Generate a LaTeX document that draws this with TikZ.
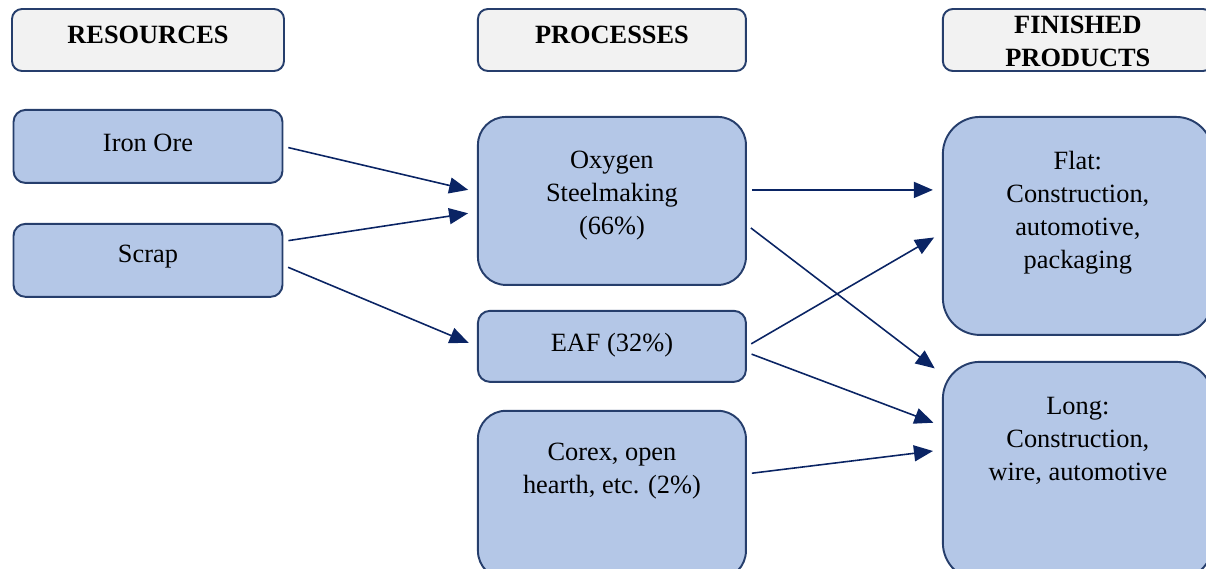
\documentclass[tikz,border=0pt]{standalone}
\usepackage{fontspec}
\setmainfont{Liberation Serif}
\usetikzlibrary{positioning,arrows.meta}

\definecolor{boxline}{RGB}{38,62,108}
\definecolor{boxfill}{RGB}{180,199,231}
\definecolor{headfill}{RGB}{242,242,242}
\definecolor{arrowblue}{RGB}{10,36,100}

\begin{document}
\begin{tikzpicture}[
    header/.style={
        rectangle,
        rounded corners=0.2cm,
        minimum height=1.24cm,
        draw=boxline,
        fill=headfill,
        line width=1.1pt
    },
    item/.style={
        rectangle,
        draw=boxline,
        fill=boxfill,
        line width=1.1pt
    },
    txt/.style={
        align=center,
        inner sep=0pt,
        font=\fontsize{15}{18.8}\selectfont
    },
    headtxt/.style={
        txt,
        font=\fontsize{15}{18.8}\selectfont\bfseries
    },
    arrow/.style={
        -{Triangle[length=0.38cm,width=0.32cm]},
        line width=0.9pt,
        draw=arrowblue,
        shorten <=0.1cm,
        shorten >=0.18cm
    }
]

\useasboundingbox (0,0) rectangle (24.12,-11.38);

% Headers
\node[header, minimum width=5.44cm] (res) at (2.96,-0.80) {};
\node[headtxt] (res-txt) at ([yshift=0.1cm]res.center) {RESOURCES};
\node[header, minimum width=5.36cm, right=3.84cm of res] (proc) {};
\node[headtxt] (proc-txt) at ([yshift=0.1cm]proc.center) {PROCESSES};
\node[header, minimum width=5.40cm, right=3.90cm of proc] (fin) {};
\node[headtxt] (fin-txt) at ([yshift=-0.02cm]fin.center) {FINISHED\\PRODUCTS};

% Resources
\node[item, minimum width=5.38cm, rounded corners=0.24cm, minimum height=1.46cm, below=0.74cm of res] (iron) {};
\node[txt] (iron-txt) at ([yshift=0.07cm]iron.center) {Iron Ore};
\node[item, minimum width=5.38cm, rounded corners=0.24cm, minimum height=1.46cm, below=0.78cm of iron] (scrap) {};
\node[txt] (scrap-txt) at ([yshift=0.07cm]scrap.center) {Scrap};

% Processes
\node[item, minimum width=5.36cm, rounded corners=0.56cm, minimum height=3.36cm, below=0.88cm of proc] (oxy) {};
\node[txt] (oxy-txt) at ([yshift=-1.60cm]oxy.north) {Oxygen\\Steelmaking\\(66\%)};
\node[item, minimum width=5.36cm, rounded corners=0.24cm, minimum height=1.42cm, below=0.48cm of oxy] (eaf) {};
\node[txt] (eaf-txt) at ([yshift=0.03cm]eaf.center) {EAF (32\%)};
\node[item, minimum width=5.36cm, rounded corners=0.56cm, minimum height=3.36cm, below=0.54cm of eaf] (corex) {};
\node[txt] (corex-txt) at ([yshift=-1.23cm]corex.north) {Corex, open\\hearth, etc. (2\%)};

% Finished products
\node[item, minimum width=5.40cm, rounded corners=0.74cm, minimum height=4.36cm, below=0.88cm of fin] (flat) {};
\node[txt] (flat-txt) at ([yshift=-1.94cm]flat.north) {Flat:\\Construction,\\automotive,\\packaging};
\node[item, minimum width=5.40cm, rounded corners=0.74cm, minimum height=4.36cm, below=0.50cm of flat] (long) {};
\node[txt] (long-txt) at ([yshift=-1.60cm]long.north) {Long:\\Construction,\\wire, automotive};

% Arrows
\draw[arrow] (iron.east) -- ([yshift=0.18cm]oxy.west);
\draw[arrow] ([yshift=0.38cm]scrap.east) -- ([yshift=-0.22cm]oxy.west);
\draw[arrow] ([yshift=-0.1cm]scrap.east) -- (eaf.west);
\draw[arrow] ([yshift=0.22cm]oxy.east) -- ([yshift=0.72cm]flat.west);
\draw[arrow] ([yshift=-0.48cm]oxy.east) -- ([yshift=-0.26cm]long.north west);
\draw[arrow] (eaf.east) -- ([yshift=-0.14cm]flat.west);
\draw[arrow] ([yshift=-0.12cm]eaf.east) -- ([yshift=-1.3cm]long.north west);
\draw[arrow] ([yshift=-1.28cm]corex.north east) -- ([yshift=-1.78cm]long.north west);

\end{tikzpicture}
\end{document}
